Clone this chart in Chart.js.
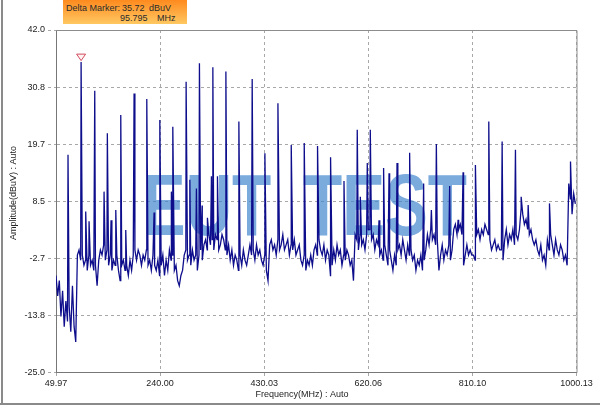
<!DOCTYPE html>
<html>
<head>
<meta charset="utf-8">
<script src="https://cdn.jsdelivr.net/npm/chart.js@4.4.0/dist/chart.umd.min.js"></script>
<style>
  html, body { margin: 0; padding: 0; background: #fff; }
  #wrap { position: relative; width: 600px; height: 409px; overflow: hidden; }
  #marker { position: absolute; left: 63px; top: 0; width: 124px; height: 24px;
            background: linear-gradient(#ff8a1e, #ffc862);
            font: 9px 'Liberation Sans', Arial, sans-serif; color: #2a2a2a; }
  #marker span { position: absolute; white-space: pre; }
</style>
</head>
<body>
<div id="wrap">
  <canvas id="spectrumChart" width="600" height="409"></canvas>
  <div id="marker">
    <span style="left:3px;top:3px">Delta Marker:</span>
    <span id="mAmp" style="left:59px;top:3px"></span>
    <span style="left:86px;top:3px">dBuV</span>
    <span id="mFreq" style="left:57px;top:13px"></span>
    <span style="left:94px;top:13px">MHz</span>
  </div>
</div>
<script>
// tick labels
const xTicks = [49.97, 240.00, 430.03, 620.06, 810.10, 1000.13];
const yTicks = [-25.0, -13.8, -2.7, 8.5, 19.7, 30.8, 42.0];

// marker
const markerFreq = 95.795;
const markerAmp = 35.72;

// noise floor, one reading every 3 MHz from 50 MHz (dBuV)
const floorStart = 50;
const floorStep = 3;
const floorLevels = [
  -6, -10, -7, -14, -9, -16, -11, -15, -12, -17, -8, -16, -19,
  -2, -1, -3, -2, -4, -3, -5, -2, -4, -3,
  -5, -4, -8, -3, -1, -2, 0, -3, -1, -4,
  -2, -5, -3, -4, -2, -5, -7, -4, -3, -5,
  -4, -6, -3, -5, -2, -1, -3, -1, -2, -4,
  -2, -3, -1, -4, -3, -5, -2, -4, -5, -3,
  -6,
  -4, -2, -6, -3, -5,
  -1, -3, -2, -5, -4,
  -7, -8, -6, -5,
  -2, -1, -3, -2, -4, -1, -3, -2, -5, -2, -1, -3, 0,
  1, -1, 2, 0, 1, -1, 2, 1, -1, 0, 2, 1, -1,
  -2, 0, -3, -1, -4, -2, -3, -5, -2, -4, -1, -3, -4, -2,
  0, -2, -1, -3, 0, -2, -1, -3, -4, -2,
  -5, -7,
  0, 1, -1, 0, -2, 1, -1, 0, 2, -1, 0, 1, -2, 0, -1, 1, -2, -1, 0,
  -3, -4, -2, -5, -3, -4, -2, -4,
  -1, 0, -2, 1, -1, -2, 0, -3, -1, -2,
  -6, -4,
  -1, -3, 0, -2, -1, -4, -2, -3, -1,
  -2, -4, -3, -7,
  2, 1, -1, 2, 0, 1, -1, 2, 3,
  3, 1, 2, -1, 1, 0,
  -2, -1, -3, 0, -2, -4, -1, -3, -5, -2, -4, -1,
  0, -2, 1, -1, -3, 0, -2, -1,
  -3, -2, -5, -3, -4, -2, -5, -3, -1,
  2, 0, 3, 1, 2, 0, 1,
  -5,
  -2, 0, -3, -1, -2, 0, -3, -1,
  3, 4, 2, 3, 4, 2,
  -4, -2,
  0, -2, -1, -2,
  -2, -3,
  2, 3, 1, 3, 2, 4, 3, 2,
  1, -1, 0, 1, -1, 0, -1,
  -1, -3,
  1, 3, 0, 2, 1, 3, 0, 2, 1, 3,
  7, 6, 4, 5, 3, 2, 3, 1, 0, 1,
  -1, -2, 0, -3, -2, -4,
  1, -1, 2, 0, -2, 1, -1, -2, 0, -1, -3, -2,
  -4,
  12, 9, 6, 10, 8
];

// spikes: [MHz, dBuV]
const spikes = [
  [71.9, 17.6], [95.795, 35.72], [104.2, 6.5], [110.3, 4.6], [120.7, 30.1],
  [137.7, 10.4], [143.7, 21.8], [150.5, 4.8], [159.1, 6.8], [168.2, 25.4],
  [177.3, 2.9], [192.5, 29.6], [215.7, 28.5], [229.0, 6.3], [239.5, 24.4],
  [260.6, 10.4], [263.2, 23.1], [287.5, 31.9], [294.3, 12.7], [306.3, 11.0],
  [311.8, 35.5], [316.7, 7.7], [326.4, 5.3], [333.7, 13.4], [336.3, 34.7],
  [344.7, 13.4], [360.1, 33.9], [383.8, 24.1], [408.1, 32.4], [431.3, 17.9],
  [455.1, 27.7], [479.4, 19.5], [503.1, 19.9], [527.4, 19.3], [551.2, 17.1],
  [575.7, 12.5], [599.9, 22.5], [605.5, 9.4], [618.2, 16.0], [623.7, 22.5],
  [639.6, 4.8], [648.0, 15.0], [657.9, 14.0], [672.5, 16.0], [695.5, 18.0],
  [721.1, 12.0], [735.2, 6.8], [744.3, 19.7], [768.6, 11.5], [784.0, 4.9],
  [793.1, 14.2], [815.6, 15.6], [840.0, 24.1], [864.4, 20.2], [888.7, 18.6],
  [899.1, 9.4], [911.9, 7.8], [950.8, 8.1], [989.2, 16.3]
];

const trace = floorLevels.map((v, i) => ({ x: floorStart + i * floorStep, y: v }))
  .concat(spikes.map(s => ({ x: s[0], y: s[1] })))
  .sort((a, b) => a.x - b.x);

document.getElementById('mAmp').textContent = markerAmp.toFixed(2);
document.getElementById('mFreq').textContent = markerFreq.toFixed(3);

const tickFont = { family: "'Liberation Sans', Arial, sans-serif", size: 9 };

// watermark, marker, frame and axis titles
const decor = {
  id: 'decor',
  beforeDatasetsDraw(chart) {
    const ctx = chart.ctx;
    ctx.save();
    ctx.font = 'bold 88px "Liberation Sans", Arial, sans-serif';
    ctx.fillStyle = 'rgba(60,130,205,0.68)';
    ctx.textAlign = 'center';
    ctx.textBaseline = 'alphabetic';
    const sx = 164 / ctx.measureText('TEST').width;
    [['EUT', 207], ['TEST', 385]].forEach(([word, cx]) => {
      ctx.save();
      ctx.translate(cx, 235);
      ctx.scale(sx, 1);
      ctx.fillText(word, 0, 0);
      ctx.restore();
    });
    ctx.restore();
  },
  afterDatasetsDraw(chart) {
    const ctx = chart.ctx;
    const x = chart.scales.x.getPixelForValue(markerFreq);
    const y = chart.scales.y.getPixelForValue(markerAmp);
    ctx.save();
    ctx.beginPath();
    ctx.moveTo(x, y - 1.5);
    ctx.lineTo(x - 4.5, y - 8);
    ctx.lineTo(x + 4.5, y - 8);
    ctx.closePath();
    ctx.fillStyle = '#fff4f4';
    ctx.fill();
    ctx.strokeStyle = '#d24a5e';
    ctx.lineWidth = 1;
    ctx.stroke();
    ctx.restore();
  },
  afterDraw(chart) {
    const { ctx, chartArea: a } = chart;
    ctx.save();
    // top and right frame
    ctx.strokeStyle = '#8c8c8c';
    ctx.lineWidth = 1;
    ctx.beginPath();
    ctx.moveTo(a.left, a.top + 0.5);
    ctx.lineTo(a.right + 0.5, a.top + 0.5);
    ctx.lineTo(a.right + 0.5, a.bottom);
    ctx.stroke();
    // window edges
    ctx.fillStyle = '#8a8a8a';
    ctx.fillRect(1, 0, 2, 405);
    ctx.fillRect(0, 403, 600, 2);
    // axis titles
    ctx.fillStyle = '#222';
    ctx.font = "9px 'Liberation Sans', Arial, sans-serif";
    ctx.textAlign = 'center';
    ctx.textBaseline = 'middle';
    ctx.fillText('Frequency(MHz) : Auto', 302, 395);
    ctx.translate(14, 193);
    ctx.rotate(-Math.PI / 2);
    ctx.fillText('Amplitude(dBuV) : Auto', 0, 0);
    ctx.restore();
  }
};

const ctx = document.getElementById('spectrumChart').getContext('2d');
new Chart(ctx, {
  type: 'line',
  data: {
    datasets: [{
      data: trace,
      borderColor: '#0e0e8c',
      borderWidth: 1.3,
      pointRadius: 0,
      tension: 0,
      fill: false
    }]
  },
  options: {
    responsive: false,
    animation: false,
    events: [],
    layout: { padding: { top: 30, right: 23.5, left: 0, bottom: 0 } },
    plugins: { legend: { display: false }, tooltip: { enabled: false } },
    scales: {
      x: {
        type: 'linear',
        min: 49.97,
        max: 1000.13,
        afterBuildTicks: s => { s.ticks = xTicks.map(v => ({ value: v })); },
        afterFit: s => { s.height = 36.3; },
        ticks: { callback: v => v.toFixed(2), autoSkip: false, maxRotation: 0, padding: 1, color: '#222', font: tickFont },
        grid: { color: '#a8a8a8', tickLength: 4, tickBorderDash: [3, 3] },
        border: { color: '#777', dash: [3, 3] }
      },
      y: {
        min: -25,
        max: 42,
        afterBuildTicks: s => { s.ticks = yTicks.map(v => ({ value: v })); },
        afterFit: s => { s.width = 56; },
        ticks: { callback: v => v.toFixed(1), autoSkip: false, padding: 3, color: '#222', font: tickFont },
        grid: { color: '#a8a8a8', tickLength: 8, tickBorderDash: [3, 3] },
        border: { color: '#777', dash: [3, 3] }
      }
    }
  },
  plugins: [decor]
});
</script>
</body>
</html>
